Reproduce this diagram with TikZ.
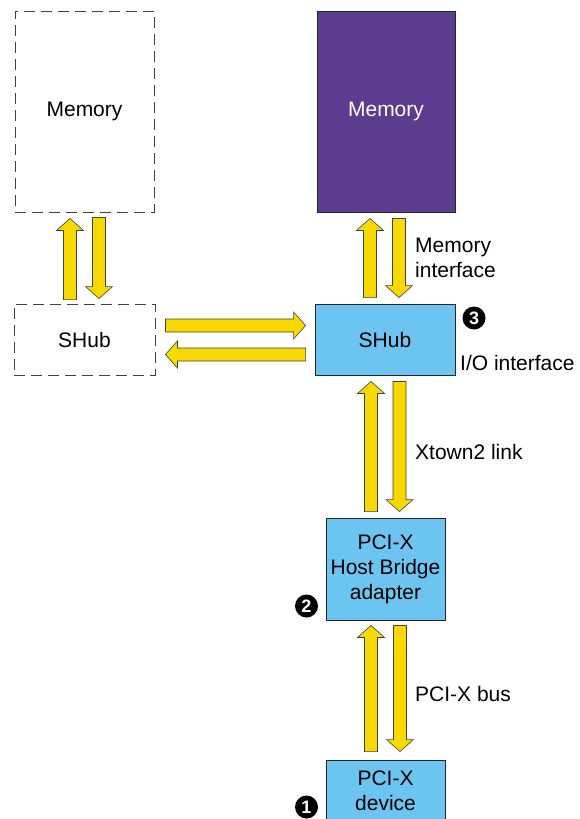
\documentclass[tikz,border=0pt]{standalone}
\usepackage{fontspec}
\setmainfont{Liberation Sans}
\usetikzlibrary{calc}

\definecolor{hubblue}{HTML}{6CC5F1}
\definecolor{mempurple}{HTML}{5C3C8E}
\definecolor{linkyellow}{HTML}{F7D900}

\begin{document}
\begin{tikzpicture}[x=1pt, y=-1pt,
    every node/.style={font=\fontsize{21}{25}\selectfont, align=center, inner sep=0pt},
    box/.style={draw=black!85, line width=0.9pt},
    ghost/.style={draw=black!75, line width=0.9pt, dash pattern=on 11pt off 6pt},
    badge/.style={circle, fill=black, text=white, minimum size=23pt, font=\bfseries\fontsize{18}{18}\selectfont},
    fat/.style={draw=black!75, line width=0.6pt, fill=linkyellow, to path={
      let \p1=(\tikztostart), \p2=(\tikztotarget), \p3=($(\p2)!12pt!(\p1)$) in
      ($(\p1)!6.5pt!90:(\p2)$) -- ($(\p3)!6.5pt!90:(\p2)$) -- ($(\p3)!13.5pt!90:(\p2)$)
      -- (\p2) -- ($(\p3)!13.5pt!-90:(\p2)$) -- ($(\p3)!6.5pt!-90:(\p2)$)
      -- ($(\p1)!6.5pt!-90:(\p2)$) -- cycle}}]

  \useasboundingbox (0,0) rectangle (579,819);

  % boxes
  \node[ghost, minimum width=139pt, minimum height=201pt] (memL) at (84.5,111.5) {Memory};
  \node[box, fill=mempurple, text=white, minimum width=138pt, minimum height=201pt] (memR) at (386,111.5) {Memory};
  \node[ghost, minimum width=141pt, minimum height=71pt] (hubL) at (84.5,339.5) {SHub};
  \node[box, fill=hubblue, minimum width=140pt, minimum height=71pt] (hubR) at (385,339.5) {SHub};
  \node[box, fill=hubblue, minimum width=119pt, minimum height=102pt] (bridge) at (385.5,569) {PCI-X\\Host Bridge\\adapter};
  \node[box, fill=hubblue, minimum width=119pt, minimum height=62pt] (dev) at (385.5,791) {PCI-X\\device};

  % arrow ends
  \coordinate (a1s) at ($(hubL.north)+(-14.5,-4)$);
  \coordinate (a1e) at ($(memL.south)+(-14.5,6)$);
  \coordinate (a2s) at ($(memL.south)+(14.5,5)$);
  \coordinate (a2e) at ($(hubL.north)+(14.5,-5)$);
  \coordinate (a3s) at ($(hubR.north)+(-15,-6)$);
  \coordinate (a3e) at ($(memR.south)+(-16,6)$);
  \coordinate (a4s) at ($(memR.south)+(13,6)$);
  \coordinate (a4e) at ($(hubR.north)+(14,-6)$);
  \coordinate (a5s) at ($(hubL.east)+(10,-14)$);
  \coordinate (a5e) at ($(hubR.west)+(-9,-14)$);
  \coordinate (a6s) at ($(hubR.west)+(-9,15)$);
  \coordinate (a6e) at ($(hubL.east)+(10,15)$);
  \coordinate (a7s) at ($(bridge.north)+(-14.5,-6)$);
  \coordinate (a7e) at ($(hubR.south)+(-14,6)$);
  \coordinate (a8s) at ($(hubR.south)+(14.5,6)$);
  \coordinate (a8e) at ($(bridge.north)+(14,-6)$);
  \coordinate (a9s) at ($(dev.north)+(-14.5,-8)$);
  \coordinate (a9e) at ($(bridge.south)+(-14.5,5)$);
  \coordinate (a10s) at ($(bridge.south)+(14.5,5)$);
  \coordinate (a10e) at ($(dev.north)+(14.5,-8)$);

  % block arrows
  \foreach \k in {1,...,10} {
    \draw[fat] (a\k s) to (a\k e);
  }

  % labels
  \node[anchor=west, align=left] (memif) at (415,258) {Memory\\interface};
  \node[anchor=west] (ioif) at (460,363) {I/O interface};
  \node[anchor=west] (xlink) at (415,452) {Xtown2 link};
  \node[anchor=west] (pcibus) at (415,694) {PCI-X bus};

  % numbered badges
  \node[badge] (n3) at (474,318) {3};
  \node[badge] (n2) at (306.5,606) {2};
  \node[badge] (n1) at (306.5,807) {1};

\end{tikzpicture}
\end{document}
